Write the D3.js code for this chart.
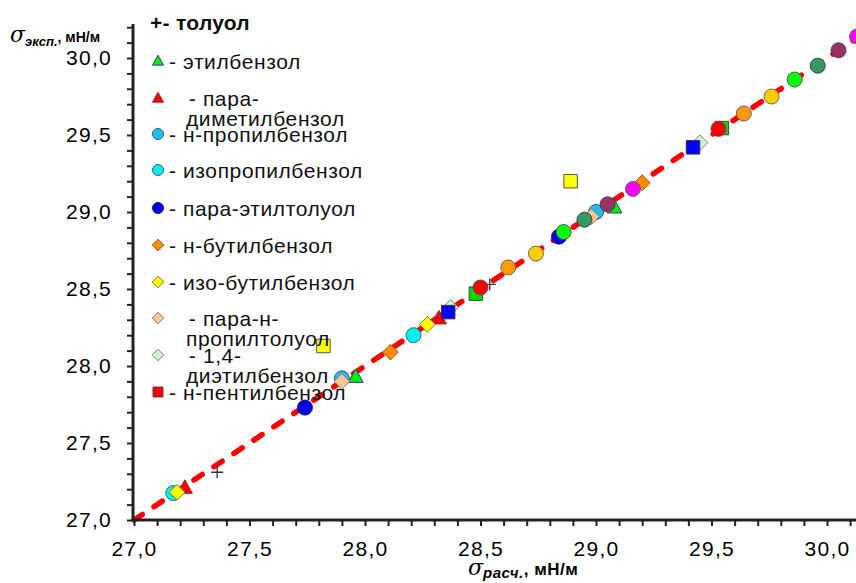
<!DOCTYPE html>
<html><head><meta charset="utf-8">
<script src="https://cdn.jsdelivr.net/npm/d3@7"></script>
<style>body{margin:0;background:#fff;overflow:hidden}text{font-family:"Liberation Sans",Arial,sans-serif}</style></head>
<body><svg id="c" width="856" height="583"></svg>
<script>
// ---- data (x = σ расч., y = σ эксп.) ----
const toluene      = [[27.36,27.31],[28.54,28.53]];
const ethylbenzene = [[27.96,27.93],[29.08,29.03]];
const pXylene      = [[27.22,27.21],[28.32,28.31]];
const nPropyl      = [[27.90,27.92],[29.00,29.00]];
const isoPropyl    = [[27.17,27.175],[28.21,28.20]];
const pEthylTol    = [[27.74,27.73],[28.84,28.84]];
const nButyl       = [[28.11,28.09],[29.20,29.19]];
const isoButyl     = [[27.186,27.18],[28.27,28.27]];
const pPropylTol   = [[27.90,27.90],[28.98,28.97]];
const diethyl14    = [[28.37,28.38],[29.45,29.45]];
const nPentyl      = [];
const yellowSq     = [[27.82,28.13],[28.89,29.20]];
const blueSq       = [[28.36,28.35],[29.42,29.42]];
const greenSq      = [[28.48,28.47],[29.545,29.545]];
const redCirc      = [[28.50,28.51],[29.53,29.54]];
const orangeCirc   = [[28.62,28.64],[29.64,29.64]];
const goldCirc     = [[28.74,28.73],[29.76,29.75]];
const greenCirc    = [[28.86,28.87],[29.86,29.86]];
const seaCirc      = [[28.95,28.95],[29.96,29.95]];
const maroonCirc   = [[29.05,29.05],[30.05,30.05]];
const magentaCirc  = [[29.16,29.15],[30.13,30.14]];
const fitLine      = [[27.0,27.0],[30.2,30.2]];
const xTicks = d3.range(270, 302).map(d => d/10);
const yTicks = d3.range(270, 303).map(d => d/10);
const majorTicks = [27.0,27.5,28.0,28.5,29.0,29.5,30.0];

const series = [
  {data: toluene, shape:"plus", fill:"none", stroke:"#333", label:["+- толуол"], bold:true},
  {data: ethylbenzene, shape:"tri", fill:"#00ee00", stroke:"#3a3a9a", label:["- этилбензол"]},
  {data: pXylene, shape:"tri", fill:"#ff0000", stroke:"#8a2a2a", label:["  - пара-","диметилбензол"]},
  {data: nPropyl, shape:"circ", fill:"#1fbff5", stroke:"#3a5a6a", label:["- н-пропилбензол"]},
  {data: isoPropyl, shape:"circ", fill:"#00f0f0", stroke:"#3a6a6a", label:["- изопропилбензол"]},
  {data: pEthylTol, shape:"circ", fill:"#0000ee", stroke:"#1a1a6a", label:["- пара-этилтолуол"]},
  {data: nButyl, shape:"dia", fill:"#ff8c00", stroke:"#8a5a2a", label:["- н-бутилбензол"]},
  {data: isoButyl, shape:"dia", fill:"#ffff00", stroke:"#7a7a2a", label:["- изо-бутилбензол"]},
  {data: pPropylTol, shape:"dia", fill:"#fcc89a", stroke:"#8a7a6a", label:["  - пара-н-","пропилтолуол"]},
  {data: diethyl14, shape:"dia", fill:"#cdf5cd", stroke:"#7a8a7a", label:["  - 1,4-","диэтилбензол"]},
  {data: nPentyl, shape:"sq", fill:"#ff0000", stroke:"#6a2a2a", label:["- н-пентилбензол"]},
  {data: yellowSq, shape:"sq", fill:"#ffff00", stroke:"#555"},
  {data: blueSq, shape:"sq", fill:"#0000ff", stroke:"#333"},
  {data: greenSq, shape:"sq", fill:"#00dd00", stroke:"#444"},
  {data: redCirc, shape:"circ", fill:"#ff0000", stroke:"#555"},
  {data: orangeCirc, shape:"circ", fill:"#ff9900", stroke:"#666"},
  {data: goldCirc, shape:"circ", fill:"#ffcc00", stroke:"#666"},
  {data: greenCirc, shape:"circ", fill:"#00ff00", stroke:"#555"},
  {data: seaCirc, shape:"circ", fill:"#339966", stroke:"#444"},
  {data: maroonCirc, shape:"circ", fill:"#993366", stroke:"#444"},
  {data: magentaCirc, shape:"circ", fill:"#ff00ff", stroke:"#666"}
];

const svg = d3.select("#c");
const x = d3.scaleLinear().domain([27,30]).range([134,827]);
const y = d3.scaleLinear().domain([27,30]).range([520,58]);
const fmt = d => d3.format(".1f")(d).replace(".", ",");
const isMajor = d => majorTicks.some(m => Math.abs(m-d) < 1e-6);

function markerPath(shape, s) {
  const p = d3.path();
  if (shape === "circ") { p.arc(0,0,s,0,2*Math.PI); p.closePath(); }
  else if (shape === "tri") { p.moveTo(0,-s*1.05); p.lineTo(s*1.0,s*0.75); p.lineTo(-s*1.0,s*0.75); p.closePath(); }
  else if (shape === "dia") { p.moveTo(0,-s*1.05); p.lineTo(s*1.05,0); p.lineTo(0,s*1.05); p.lineTo(-s*1.05,0); p.closePath(); }
  else if (shape === "sq") { p.rect(-s*0.9,-s*0.9,s*1.8,s*1.8); }
  else if (shape === "plus") { p.moveTo(-s,0); p.lineTo(s,0); p.moveTo(0,-s); p.lineTo(0,s); }
  return p.toString();
}

// fit line
svg.append("path")
  .attr("d", d3.line().x(d => x(d[0])).y(d => y(d[1]))(fitLine))
  .attr("stroke", "#ff0000").attr("stroke-width", 5.5)
  .attr("stroke-dasharray", "10,14").attr("stroke-linecap", "round").attr("fill", "none");

// axes
const xAxis = svg.append("g").attr("transform", "translate(0,520)")
  .call(d3.axisBottom(x).tickValues(xTicks).tickSize(6).tickSizeOuter(0).tickPadding(15).tickFormat(d => isMajor(d) ? fmt(d) : ""));
xAxis.select(".domain").attr("d", "M133,0H856");
const yAxis = svg.append("g").attr("transform", "translate(133,0)")
  .call(d3.axisLeft(y).tickValues(yTicks).tickSize(6).tickSizeOuter(0).tickPadding(15).tickFormat(d => isMajor(d) ? fmt(d) : ""));
yAxis.select(".domain").attr("d", "M0,521V24");
svg.selectAll(".domain").attr("stroke", "#222").attr("stroke-width", 3);
svg.selectAll(".tick line").attr("stroke", "#222").attr("stroke-width", 2);
svg.selectAll(".tick text").attr("font-size", 21).attr("fill", "#000").style("letter-spacing", "1.3px")
  .attr("font-family", "'Liberation Sans', Arial, sans-serif");

// points
series.forEach(s => {
  svg.append("g").selectAll("path").data(s.data).join("path")
    .attr("transform", d => `translate(${x(d[0])},${y(d[1])})`)
    .attr("d", markerPath(s.shape, s.shape === "plus" ? 6 : 7.5))
    .attr("fill", s.fill).attr("stroke", s.stroke).attr("stroke-width", s.shape === "plus" ? 1.3 : 1);
});

// legend
const legY = [22, 61, 98, 134, 170, 208, 245, 282, 318, 355, 392];
const legendSeries = series.filter(s => s.label);
const leg = svg.append("g");
legendSeries.forEach((s, i) => {
  const yy = legY[i];
  if (s.shape !== "plus") {
    leg.append("path").attr("transform", `translate(158,${yy})`)
      .attr("d", markerPath(s.shape, 5.5)).attr("fill", s.fill).attr("stroke", s.stroke).attr("stroke-width", 1);
  }
  const indent = s.label.length > 1;
  s.label.forEach((t, j) => {
    leg.append("text")
      .attr("x", s.shape === "plus" ? 150 : (indent ? (j === 0 ? 176 : 186) : 169))
      .attr("y", yy + j*20).attr("dy", "0.36em")
      .attr("font-size", 21).attr("fill", "#111").style("letter-spacing", s.bold ? "0.3px" : "0.6px")
      .attr("font-weight", s.bold ? "bold" : "normal")
      .style("white-space", "pre").attr("xml:space", "preserve")
      .text(t);
  });
});

// axis titles
const yt = svg.append("text").attr("x", 10).attr("y", 42);
yt.append("tspan").attr("font-family", "'DejaVu Serif', serif").attr("font-style", "italic").attr("font-size", 22).text("σ");
yt.append("tspan").attr("dy", 4).attr("font-size", 13).attr("font-style", "italic").attr("font-weight", "bold").text("эксп.");
yt.append("tspan").attr("dy", -4).attr("font-size", 14).attr("font-weight", "bold").text(", мН/м");
const xt = svg.append("text").attr("x", 468).attr("y", 575);
xt.append("tspan").attr("font-family", "'DejaVu Serif', serif").attr("font-style", "italic").attr("font-size", 22).text("σ");
xt.append("tspan").attr("dy", 3).attr("font-size", 15).attr("font-style", "italic").attr("font-weight", "bold").style("letter-spacing", "0.5px").text("расч.");
xt.append("tspan").attr("dy", -3).attr("font-size", 17).attr("font-weight", "bold").style("letter-spacing", "0.5px").text(", мН/м");
</script></body></html>
